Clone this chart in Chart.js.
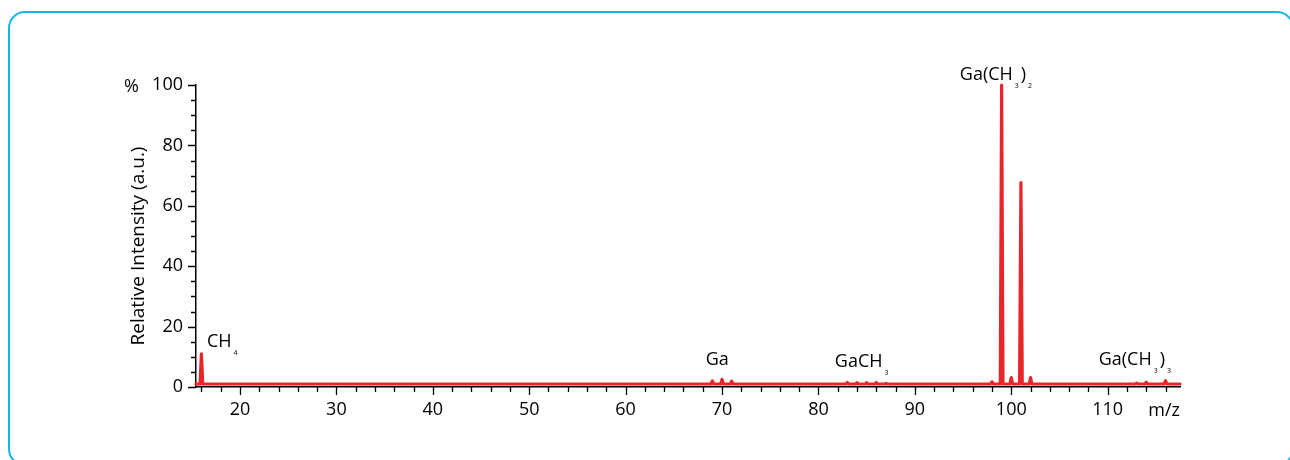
<!DOCTYPE html>
<html><head><meta charset="utf-8">
<script src="https://cdn.jsdelivr.net/npm/chart.js@4.4.1/dist/chart.umd.min.js"></script>
<style>
html,body{margin:0;padding:0;background:#fff;overflow:hidden}
#wrap{position:relative;width:1290px;height:460px}
#frame{position:absolute;left:8px;top:11px;width:1286px;height:455px;border:2px solid #18b4ee;border-radius:17px;box-sizing:border-box}
canvas{position:absolute;left:0;top:0}
</style></head><body>
<div id="wrap"><div id="frame"></div><canvas id="c" width="1290" height="460"></canvas></div>
<script>
// ---- data ----
const xTickValues = [20, 30, 40, 50, 60, 70, 80, 90, 100, 110];
const yTickValues = [0, 20, 40, 60, 80, 100];
const peakMz        = [16,  69,  70,  71,  83,  84,  85,  86,  87,  98,  99,  100, 101,  102, 113, 114, 116];
const peakIntensity = [11, 2.0, 2.5, 1.9, 1.5, 1.4, 1.4, 1.5, 1.2, 1.7, 100, 3.1, 67.7, 3.1, 1.3, 1.6, 2.1];
const baselineLevel = 1.0;
const mzRange = [15.44, 117.5];
const intensityRange = [0, 100];
const yAxisTitle = 'Relative Intensity (a.u.)';
const peakLabels = [
  { parts: [['CH', 0], ['4', 1]], mz: 16.58, at: 13.4 },
  { parts: [['Ga', 0]], mz: 68.3, at: 7.45 },
  { parts: [['GaCH', 0], ['3', 1]], mz: 81.7, at: 6.46 },
  { parts: [['Ga(CH', 0], ['3', 1], [')', 0], ['2', 1]], mz: 94.66, at: 101.8 },
  { parts: [['Ga(CH', 0], ['3', 1], [')', 0], ['3', 1]], mz: 109.07, at: 7.45 }
];

// ---- build line points from the peak list ----
const HALF = 0.14;
const points = [{ x: mzRange[0], y: baselineLevel }];
peakMz.forEach((m, i) => {
  points.push({ x: m - HALF, y: baselineLevel });
  points.push({ x: m, y: peakIntensity[i] });
  points.push({ x: m + HALF, y: baselineLevel });
});
points.push({ x: mzRange[1], y: baselineLevel });

const FONT = "'Open Sans', 'DejaVu Sans', sans-serif";
const TEXT = '#000';
Chart.defaults.font.family = FONT;
Chart.defaults.color = TEXT;

const decor = {
  id: 'decor',
  afterDraw(chart) {
    const { ctx, chartArea: a, scales: { x, y } } = chart;
    ctx.save();
    ctx.strokeStyle = '#000';
    ctx.lineWidth = 1.3;
    ctx.beginPath();
    for (let v = 16; v <= 117; v += 2) {
      const px = Math.round(x.getPixelForValue(v)) + 0.5;
      const len = v % 10 === 0 ? 8 : 5;
      ctx.moveTo(px, a.bottom); ctx.lineTo(px, a.bottom + len);
    }
    for (let v = 0; v <= 100; v += 5) {
      const py = Math.round(y.getPixelForValue(v)) + 0.5;
      const len = v % 20 === 0 ? 8 : 5;
      ctx.moveTo(a.left, py); ctx.lineTo(a.left - len, py);
    }
    ctx.stroke();
    ctx.fillStyle = TEXT;
    // y-axis title
    ctx.save();
    ctx.font = '19px ' + FONT;
    ctx.textAlign = 'center';
    ctx.textBaseline = 'alphabetic';
    ctx.translate(a.left - 52, (a.top + a.bottom) / 2 + 10);
    ctx.rotate(-Math.PI / 2);
    ctx.fillText(yAxisTitle, 0, 0);
    ctx.restore();
    // unit labels
    ctx.font = '18px ' + FONT;
    ctx.textBaseline = 'middle';
    ctx.textAlign = 'right';
    ctx.fillText('%', a.left - 57, y.getPixelForValue(100) + 2);
    ctx.fillText('m/z', a.right, a.bottom + 24);
    // peak labels
    ctx.textAlign = 'left';
    ctx.textBaseline = 'alphabetic';
    peakLabels.forEach(lb => {
      let px = x.getPixelForValue(lb.mz);
      const py = y.getPixelForValue(lb.at);
      lb.parts.forEach(([t, sub]) => {
        if (sub) {
          ctx.font = '7px ' + FONT;
          px += 2;
          ctx.fillText(t, px, py + 8);
          px += ctx.measureText(t).width + 2;
        } else {
          ctx.font = '18px ' + FONT;
          ctx.fillText(t, px, py);
          px += ctx.measureText(t).width;
        }
      });
    });
    ctx.restore();
  }
};

new Chart(document.getElementById('c'), {
  type: 'line',
  data: {
    datasets: [{
      data: points,
      borderColor: '#e8262a',
      borderWidth: 3.2,
      pointRadius: 0,
      tension: 0,
      borderJoinStyle: 'round',
      borderCapStyle: 'round',
      clip: false
    }]
  },
  options: {
    responsive: false,
    animation: false,
    parsing: false,
    layout: { padding: { top: 85, right: 110, bottom: 0, left: 0 } },
    plugins: { legend: { display: false }, tooltip: { enabled: false } },
    scales: {
      x: {
        type: 'linear',
        min: mzRange[0], max: mzRange[1],
        afterFit: s => { s.height = 73; },
        afterBuildTicks: s => { s.ticks = xTickValues.map(v => ({ value: v })); },
        border: { display: true, color: '#000', width: 1.5 },
        grid: { display: true, drawOnChartArea: false, drawTicks: true, tickLength: 8, color: 'rgba(0,0,0,0)' },
        ticks: { autoSkip: false, maxRotation: 0, padding: 4, color: TEXT, font: { size: 18 } }
      },
      y: {
        type: 'linear',
        min: intensityRange[0], max: intensityRange[1],
        afterFit: s => { s.width = 196; },
        afterBuildTicks: s => { s.ticks = yTickValues.map(v => ({ value: v })); },
        border: { display: true, color: '#000', width: 1.5 },
        grid: { display: true, drawOnChartArea: false, drawTicks: true, tickLength: 8, color: 'rgba(0,0,0,0)' },
        ticks: { padding: 5, color: TEXT, font: { size: 18 } },
        title: { display: false }
      }
    }
  },
  plugins: [decor]
});
</script>
</body></html>
